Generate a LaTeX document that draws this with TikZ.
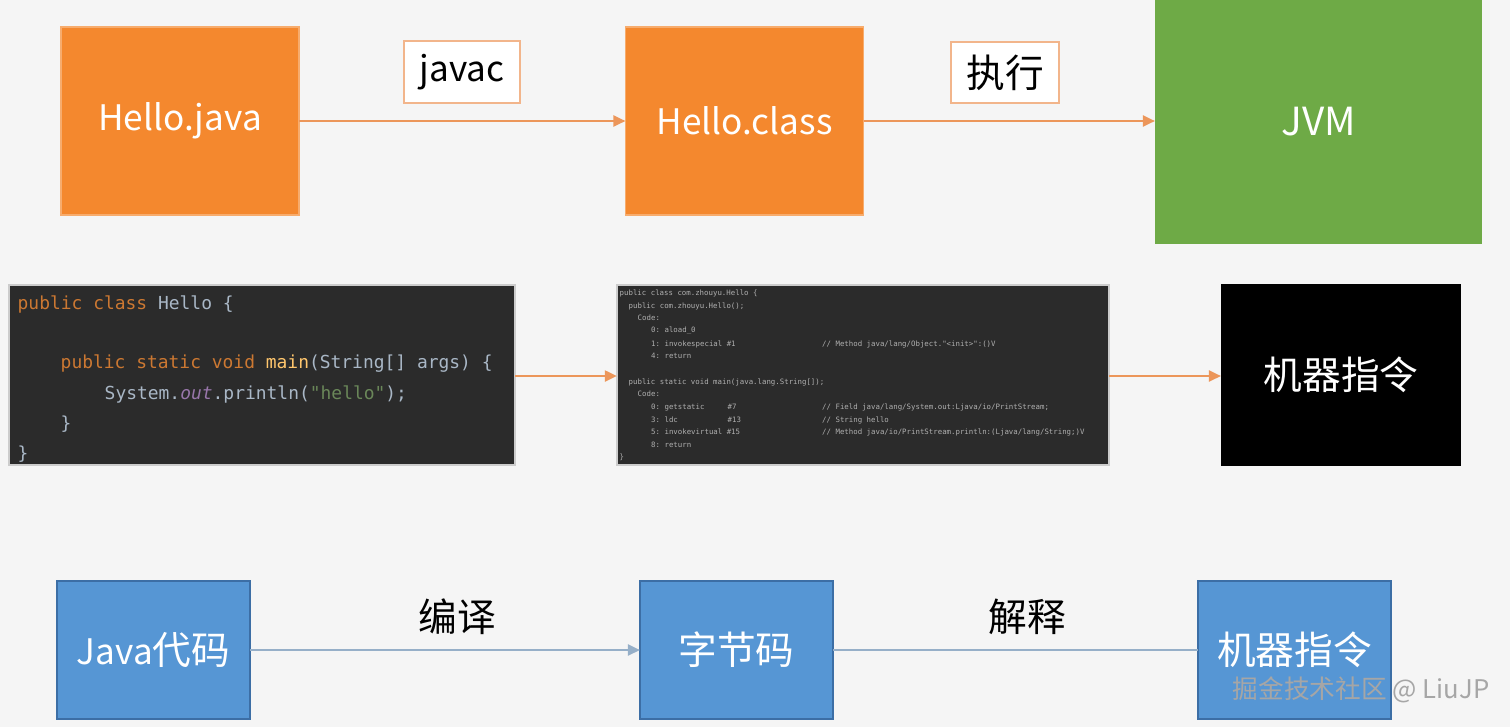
\documentclass[tikz,border=0pt]{standalone}
\usepackage{fontspec}
\setmainfont{Noto Sans CJK SC}
\setmonofont{DejaVu Sans Mono}
\usepackage{xcolor}
\usetikzlibrary{arrows.meta, positioning}

\definecolor{bgcol}{RGB}{245,245,245}
\definecolor{orangebox}{RGB}{244,136,46}
\definecolor{orangeline}{RGB}{236,150,90}
\definecolor{greenbox}{RGB}{110,170,70}
\definecolor{bluebox}{RGB}{86,150,212}
\definecolor{blueedge}{RGB}{60,110,165}
\definecolor{blueline}{RGB}{150,175,200}
\definecolor{codebg}{RGB}{43,43,43}
\definecolor{codetext}{RGB}{169,183,198}
\definecolor{codekw}{RGB}{204,120,50}
\definecolor{codefn}{RGB}{255,198,109}
\definecolor{codefld}{RGB}{152,118,170}
\definecolor{codestr}{RGB}{106,135,89}
\definecolor{bctext}{RGB}{175,175,175}

\newcommand{\kw}[1]{\textcolor{codekw}{#1}}
\newcommand{\fn}[1]{\textcolor{codefn}{#1}}
\newcommand{\fld}[1]{\textcolor{codefld}{\textit{#1}}}
\newcommand{\str}[1]{\textcolor{codestr}{#1}}
\newcommand{\lat}{\fontsize{10}{12}\selectfont}

\tikzset{
    box/.style={inner sep=0pt, outer sep=0pt, text=white, font=\fontsize{11}{13}\selectfont},
    orangenode/.style={box, fill=orangebox, draw=orangebox!70!white, minimum width=2.38cm, minimum height=1.88cm},
    bluenode/.style={box, fill=bluebox, draw=blueedge, minimum width=1.93cm, minimum height=1.38cm},
    codenode/.style={inner sep=0pt, outer sep=0pt, fill=codebg, draw=gray!40, minimum height=1.8cm},
    tag/.style={inner sep=0pt, fill=white, draw=orangeline!70!white, line width=0.6pt, font=\fontsize{11}{13}\selectfont},
    srcline/.style={anchor=west, inner sep=0pt, text=codetext, font=\ttfamily\fontsize{5.1}{6}\selectfont},
    bcline/.style={anchor=west, inner sep=0pt, text=bctext, font=\ttfamily\fontsize{2.1}{2.5}\selectfont},
    flow/.style={-{Triangle[length=1.2mm, width=1.1mm]}, orangeline, line width=0.6pt},
}

\begin{document}
\begin{tikzpicture}[x=0.01cm, y=-0.01cm]
    \useasboundingbox (0,0) rectangle (1510,727);
    \fill[bgcol] (0,0) rectangle (1510,727);

    % Row 1: source -> class file -> JVM
    \node[orangenode] (java) at (180,121) {\lat Hello.java};
    \node[orangenode] (class) at (744.5,121) {\lat Hello.class};
    \node[box, fill=greenbox, minimum width=3.27cm, minimum height=2.44cm] (jvm) at (1318.5,122) {JVM};
    \node[tag, minimum width=1.16cm, minimum height=0.62cm] (javac) at (462,72) {\lat javac};
    \node[tag, minimum width=1.08cm, minimum height=0.61cm] (exec) at (1005,72.5) {执行};
    \draw[flow] (java) -- (class);
    \draw[flow] (class.east) -- (class.east -| jvm.west);

    % Row 2: code -> bytecode -> machine code
    \node[codenode, minimum width=5.06cm] (src) at (262,375) {};
    \node[codenode, minimum width=4.92cm] (bc) at (863,375) {};
    \node[box, fill=black, minimum width=2.40cm, minimum height=1.82cm] (mc) at (1341,375) {机器指令};
    \draw[flow] (src.east |- 0,376) -- (bc.west |- 0,376);
    \draw[flow] (bc.east |- 0,376) -- (mc.west |- 0,376);

    % source code
    \node[srcline] (s1) at (17,304) {\kw{public class} Hello \{};
    \node[srcline] (s2) at (60,364) {\kw{public static void} \fn{main}(String[] args) \{};
    \node[srcline] (s3) at (104,394) {System.\fld{out}.println(\str{"hello"});};
    \node[srcline] (s4) at (60,424) {\}};
    \node[srcline] (s5) at (17,454) {\}};

    % bytecode listing
    \foreach \y/\c/\s in {
        293/0/{public class com.zhouyu.Hello \{},
        306/2/{public com.zhouyu.Hello();},
        318/4/{Code:},
        331/7/{0: aload\_0},
        344/7/{1: invokespecial \#1},
        344/45/{// Method java/lang/Object."<init>":()V},
        356/7/{4: return},
        382/2/{public static void main(java.lang.String[]);},
        394/4/{Code:},
        407/7/{0: getstatic},
        407/24/{\#7},
        407/45/{// Field java/lang/System.out:Ljava/io/PrintStream;},
        420/7/{3: ldc},
        420/24/{\#13},
        420/45/{// String hello},
        432/7/{5: invokevirtual \#15},
        432/45/{// Method java/io/PrintStream.println:(Ljava/lang/String;)V},
        445/7/{8: return},
        457/0/{\}}}
        \node[bcline] (bc-\y-\c) at ({619+4.5*\c},\y) {\s};

    % Row 3: summary
    \node[bluenode] (jc) at (153.5,650) {{\lat Java}代码};
    \node[bluenode] (bt) at (736.5,650) {字节码};
    \node[bluenode] (mi) at (1294.5,650) {机器指令};
    \node[font=\fontsize{11}{13}\selectfont] (compile) at (457,617) {编译};
    \node[font=\fontsize{11}{13}\selectfont] (interp) at (1027,617) {解释};
    \draw[-{Triangle[length=1.2mm, width=1.1mm]}, blueline, line width=0.6pt] (jc) -- (bt);
    \draw[blueline, line width=0.6pt] (bt) -- (mi);

    % watermark
    \node[text=gray!70, font=\fontsize{7.3}{8}\selectfont, anchor=east, inner sep=0pt] (mark) at (1490,690) {掘金技术社区 @ LiuJP};
\end{tikzpicture}
\end{document}
